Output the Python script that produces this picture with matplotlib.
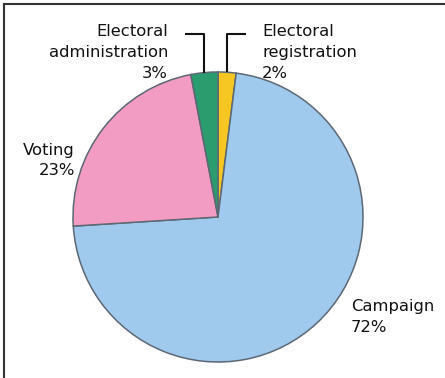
import matplotlib.pyplot as plt
import numpy as np
from matplotlib.lines import Line2D

# shares of spending, clockwise from 12 o'clock
labels = ['Electoral\nregistration', 'Campaign', 'Voting', 'Electoral\nadministration']
shares = [2, 72, 23, 3]
colors = ['#f6c722', '#a0c9ee', '#f39cc3', '#2b9c6e']

W, H = 445, 378
fig = plt.figure(figsize=(W / 100, H / 100), dpi=100)
ax = fig.add_axes([0, 0, 1, 1])

cx, cy, r = 218, H - 217, 145
wedges, _ = ax.pie(shares, colors=colors, startangle=90, counterclock=False,
                   center=(cx, cy), radius=r, frame=True,
                   wedgeprops=dict(edgecolor='#5c6873', linewidth=1.1))
ax.set_xlim(0, W)
ax.set_ylim(0, H)
ax.set_aspect('equal')
ax.axis('off')

fs = 11.8
txt = dict(fontsize=fs, color='#111111', va='baseline')

def mid_edge(w):
    a = np.deg2rad((w.theta1 + w.theta2) / 2)
    return cx + r * np.cos(a), cy + r * np.sin(a)

# leader lines for the two small slices
ly = H - 33.5
x0, y0 = mid_edge(wedges[3])
ax.plot([185, x0, x0], [ly, ly, y0], color='#111111', lw=1.5, solid_capstyle='butt')
x1, y1 = mid_edge(wedges[0])
ax.plot([x1, x1, 246], [y1, ly, ly], color='#111111', lw=1.5, solid_capstyle='butt')

# va='baseline' sits the last line on y
ax.text(168, H - 78, f'{labels[3]}\n{shares[3]}%', ha='right', multialignment='right',
        linespacing=1.52, **txt)
ax.text(262, H - 78, f'{labels[0]}\n{shares[0]}%', ha='left', multialignment='left',
        linespacing=1.52, **txt)
ax.text(75, H - 175, f'{labels[2]}\n{shares[2]}%', ha='right', multialignment='right',
        linespacing=1.38, **txt)
ax.text(351, H - 332, f'{labels[1]}\n{shares[1]}%', ha='left', multialignment='left',
        linespacing=1.52, **txt)

# frame: top and left rules only
fig.add_artist(Line2D([4 / W, 1], [1 - 4 / H, 1 - 4 / H], color='#333333', lw=1.5))
fig.add_artist(Line2D([4 / W, 4 / W], [0, 1 - 4 / H], color='#333333', lw=1.5))

fig.savefig('out.png', dpi=100)
